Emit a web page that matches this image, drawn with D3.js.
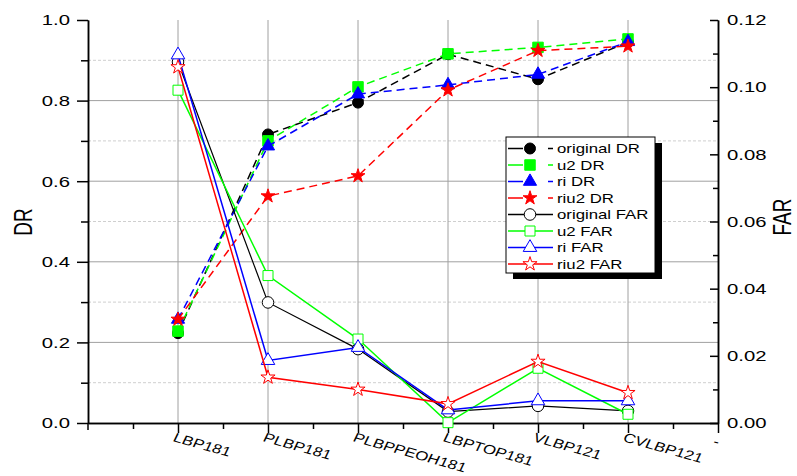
<!DOCTYPE html>
<html>
<head>
<meta charset="utf-8">
<script src="https://cdn.jsdelivr.net/npm/d3@7"></script>
<style>
  body { margin: 0; background: #fff; }
  svg { display: block; }
  text { font-family: "Liberation Sans", Arial, sans-serif; fill: #000; }
</style>
</head>
<body>
<svg id="chart" width="797" height="476"></svg>
<script>
// ---------- data ----------
const categories = ["LBP181", "PLBP181", "PLBPPEOH181", "LBPTOP181", "VLBP121", "CVLBP121"];
const extraTickLabel = "-";
const originalDR  = [0.223, 0.716, 0.795, 0.915, 0.853, 0.945];
const u2DR        = [0.228, 0.700, 0.834, 0.916, 0.932, 0.953];
const riDR        = [0.257, 0.687, 0.816, 0.839, 0.865, 0.946];
const riu2DR      = [0.257, 0.563, 0.613, 0.826, 0.924, 0.935];
const originalFAR = [0.1075, 0.0359, 0.0220, 0.0034, 0.0051, 0.0036];
const u2FAR       = [0.0991, 0.0439, 0.0250, 0.0001, 0.0163, 0.0026];
const riFAR       = [0.1096, 0.0186, 0.0225, 0.0039, 0.0066, 0.0066];
const riu2FAR     = [0.1060, 0.0136, 0.0100, 0.0057, 0.0183, 0.0090];
const leftTicks   = [0.0, 0.2, 0.4, 0.6, 0.8, 1.0];
const leftMinor   = [0.1, 0.3, 0.5, 0.7, 0.9];
const rightTicks  = [0.00, 0.02, 0.04, 0.06, 0.08, 0.10, 0.12];
const rightMinor  = [0.01, 0.03, 0.05, 0.07, 0.09, 0.11];
const seriesNames = ["original DR", "u2 DR", "ri DR", "riu2 DR", "original FAR", "u2 FAR", "ri FAR", "riu2 FAR"];

// ---------- layout ----------
const svg = d3.select("#chart");
const L = 88, R = 718, T = 20, B = 423;
const K = 1.4; // horizontal text stretch seen in reference

const x = d3.scaleLinear().domain([0, 7]).range([L, R]);
const yL = d3.scaleLinear().domain([0, 1]).range([B, T]);
const yR = d3.scaleLinear().domain([0, 0.12]).range([B, T]);

function sText(g, str, px, py, rot, size, anchor, k) {
  return g.append("text")
    .attr("transform", `translate(${px},${py}) scale(${k || K},1) rotate(${rot})`)
    .attr("font-size", size)
    .attr("text-anchor", anchor || "start")
    .text(str);
}

// ---------- grid ----------
const grid = svg.append("g");
grid.selectAll(".hmin").data(leftMinor).join("line")
  .attr("x1", L).attr("x2", R).attr("y1", d => yL(d)).attr("y2", d => yL(d))
  .attr("stroke", "#cfcfcf").attr("stroke-width", 1).attr("stroke-dasharray", "3,2");
grid.selectAll(".hmaj").data(leftTicks.filter(d => d > 0 && d < 1)).join("line")
  .attr("x1", L).attr("x2", R).attr("y1", d => yL(d)).attr("y2", d => yL(d))
  .attr("stroke", "#a0a0a0").attr("stroke-width", 1);
grid.selectAll(".vmaj").data(categories).join("line")
  .attr("x1", (d, i) => x(i + 1)).attr("x2", (d, i) => x(i + 1))
  .attr("y1", T).attr("y2", B)
  .attr("stroke", "#a0a0a0").attr("stroke-width", 1);

// ---------- axes ----------
function styleAxis(g) {
  g.selectAll("path").attr("stroke", "#000").attr("stroke-width", 1.5);
  g.selectAll("line").attr("stroke", "#000").attr("stroke-width", 1.5);
  g.selectAll("text").remove();
}
// left
svg.append("g").attr("transform", `translate(${L},0)`)
  .call(d3.axisLeft(yL).tickValues(leftTicks).tickSizeInner(11).tickSizeOuter(0).tickFormat(""))
  .call(styleAxis);
svg.append("g").attr("transform", `translate(${L},0)`)
  .call(d3.axisLeft(yL).tickValues(leftMinor).tickSizeInner(7).tickSizeOuter(0).tickFormat(""))
  .call(styleAxis);
svg.append("line").attr("x1", L).attr("x2", L).attr("y1", B).attr("y2", 430)
  .attr("stroke", "#000").attr("stroke-width", 1.5);
// right
svg.append("g").attr("transform", `translate(${R},0)`)
  .call(d3.axisRight(yR).tickValues(rightTicks).tickSizeInner(-8).tickSizeOuter(0).tickFormat(""))
  .call(styleAxis);
svg.append("g").attr("transform", `translate(${R},0)`)
  .call(d3.axisRight(yR).tickValues(rightMinor).tickSizeInner(-5).tickSizeOuter(0).tickFormat(""))
  .call(styleAxis);
// bottom
const majX = d3.range(1, 8);
const minX = d3.range(0.5, 7, 1);
svg.append("g").attr("transform", `translate(0,${B})`)
  .call(d3.axisBottom(x).tickValues(majX).tickSizeInner(10).tickSizeOuter(0).tickFormat(""))
  .call(styleAxis);
svg.append("g").attr("transform", `translate(0,${B})`)
  .call(d3.axisBottom(x).tickValues(minX).tickSizeInner(6).tickSizeOuter(0).tickFormat(""))
  .call(styleAxis);

// tick labels
const lbl = svg.append("g");
leftTicks.forEach(v => sText(lbl, d3.format(".1f")(v), 70, yL(v) + 5.3, 0, 14.5, "end"));
rightTicks.forEach(v => sText(lbl, d3.format(".2f")(v), 727, yR(v) + 5.3, 0, 14.5, "start"));
categories.forEach((c, i) => sText(lbl, c, x(i + 1) - 6, 441, 20, 13, "start", 1.3));
sText(lbl, extraTickLabel, x(7) - 6, 445, 20, 13, "start", 1.3);

// axis titles
sText(svg, "DR", 32, 222, -90, 19, "middle");
sText(svg, "FAR", 791, 217, -90, 19, "middle");

// ---------- series ----------
const green = "#00ff00", blue = "#0000ff", red = "#ff0000", black = "#000000";
const series = [
  { name: seriesNames[0], values: originalDR, y: yL, color: black, sym: d3.symbolCircle, size: 95, filled: true, dash: "8,5" },
  { name: seriesNames[1], values: u2DR, y: yL, color: green, sym: d3.symbolSquare, size: 110, filled: true, dash: "8,5" },
  { name: seriesNames[2], values: riDR, y: yL, color: blue, sym: d3.symbolTriangle, size: 75, filled: true, dash: "8,5" },
  { name: seriesNames[3], values: riu2DR, y: yL, color: red, sym: d3.symbolStar, size: 60, filled: true, dash: "8,5" },
  { name: seriesNames[4], values: originalFAR, y: yR, color: black, sym: d3.symbolCircle, size: 105, filled: false, dash: null },
  { name: seriesNames[5], values: u2FAR, y: yR, color: green, sym: d3.symbolSquare, size: 100, filled: false, dash: null },
  { name: seriesNames[6], values: riFAR, y: yR, color: blue, sym: d3.symbolTriangle, size: 80, filled: false, dash: null },
  { name: seriesNames[7], values: riu2FAR, y: yR, color: red, sym: d3.symbolStar, size: 62, filled: false, dash: null }
];

const plot = svg.append("g");
series.forEach(s => {
  const line = d3.line().x((d, i) => x(i + 1)).y(d => s.y(d));
  plot.append("path").datum(s.values)
    .attr("d", line).attr("fill", "none")
    .attr("stroke", s.color).attr("stroke-width", s.filled ? 1.5 : (s.color === black ? 1.2 : 1.5))
    .attr("stroke-dasharray", s.dash);
  plot.selectAll(null).data(s.values).join("path")
    .attr("transform", (d, i) => `translate(${x(i + 1)},${s.y(d)})`)
    .attr("d", d3.symbol().type(s.sym).size(s.size))
    .attr("fill", s.filled ? s.color : "#fff")
    .attr("stroke", s.color).attr("stroke-width", 1);
});

// ---------- legend ----------
const lg = svg.append("g");
const lx = 506, ly = 137, lw = 149, lh = 136;
lg.append("rect").attr("x", lx + 7).attr("y", ly + 6).attr("width", lw).attr("height", lh).attr("fill", "#000");
lg.append("rect").attr("x", lx).attr("y", ly).attr("width", lw).attr("height", lh)
  .attr("fill", "#fff").attr("stroke", "#000").attr("stroke-width", 1);
series.forEach((s, i) => {
  const cy = 148.5 + i * 16.5;
  lg.append("line").attr("x1", 508).attr("x2", 553).attr("y1", cy).attr("y2", cy)
    .attr("stroke", s.color).attr("stroke-width", 1.5)
    .attr("stroke-dasharray", s.filled ? "15,25,5" : null);
  lg.append("path").attr("transform", `translate(530,${cy})`)
    .attr("d", d3.symbol().type(s.sym).size(s.size))
    .attr("fill", s.filled ? s.color : "#fff")
    .attr("stroke", s.color).attr("stroke-width", 1);
  sText(lg, s.name, 557, cy + 4.5, 0, 12, "start");
});
</script>
</body>
</html>
